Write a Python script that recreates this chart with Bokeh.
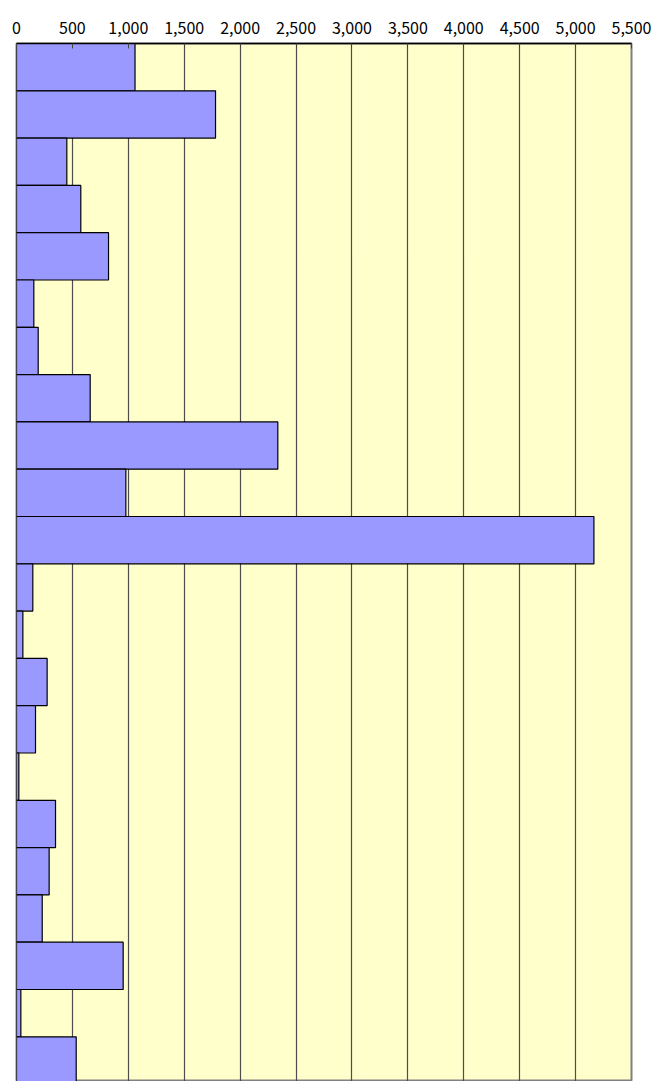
from bokeh.plotting import figure
from bokeh.models import Range1d, FixedTicker, NumeralTickFormatter, ColumnDataSource
from bokeh.embed import file_html
from bokeh.resources import INLINE

categories = [str(i) for i in range(1, 23)]
values = [1060, 1780, 450, 575, 823, 155, 194, 659, 2337, 978, 5164,
          146, 57, 274, 170, 21, 349, 292, 230, 954, 39, 534]
tick_values = list(range(0, 5501, 500))

pos = [i + 1 for i in range(len(categories))]
src = ColumnDataSource(dict(cat=categories, y=pos, v=values))

p = figure(width=655, height=1081, output_backend="svg", toolbar_location=None,
           x_axis_location="above",
           x_range=Range1d(0, 5500), y_range=Range1d(0.5 + 1038 / 47.3, 0.5),
           min_border_left=16, min_border_right=24, min_border_top=43, min_border_bottom=0)

p.background_fill_color = "#FFFFCC"
p.border_fill_color = "white"
p.outline_line_color = "#808080"
p.outline_line_width = 2

p.hbar(y="y", right="v", left=0, height=1.0, source=src,
       fill_color="#9999FF", line_color="black", line_width=1.2)

p.yaxis.visible = False
p.ygrid.visible = False
p.xgrid.grid_line_color = "#4d4d4d"
p.xgrid.grid_line_width = 1.2
p.xgrid.ticker = FixedTicker(ticks=tick_values)

ax = p.xaxis[0]
ax.ticker = FixedTicker(ticks=tick_values)
ax.formatter = NumeralTickFormatter(format="0,0")
ax.major_tick_in = 5
ax.major_tick_out = 0
ax.minor_tick_in = 0
ax.minor_tick_out = 0
ax.axis_line_color = "black"
ax.axis_line_width = 1.5
ax.major_tick_line_color = "#444444"
ax.major_label_text_font = "Noto Sans CJK JP"
ax.major_label_text_font_size = "16px"
ax.major_label_text_color = "black"
ax.major_label_standoff = 10

open("out.html", "w").write(file_html(p, INLINE))
